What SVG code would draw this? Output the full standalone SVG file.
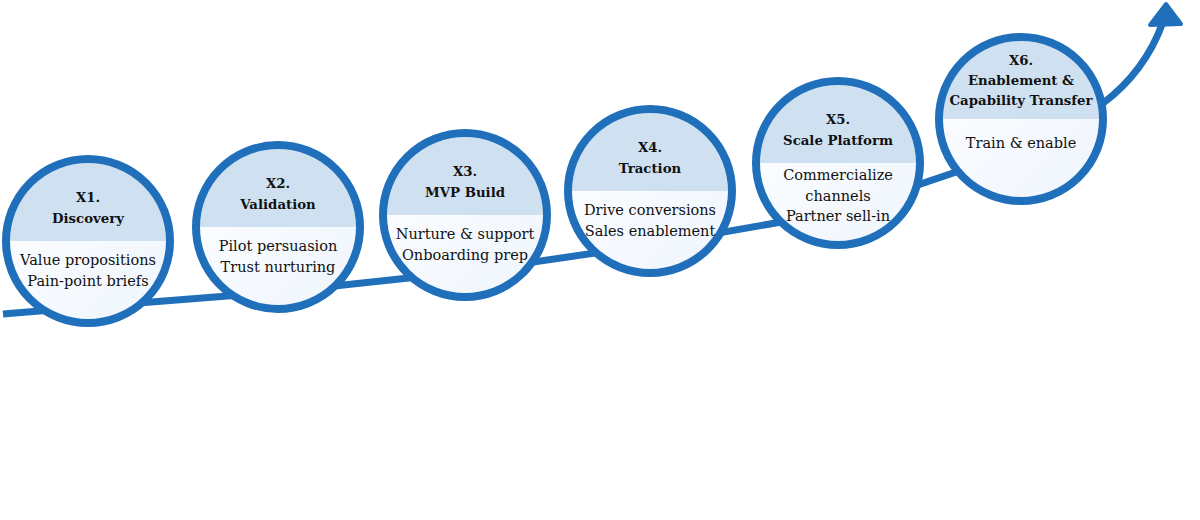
<svg xmlns="http://www.w3.org/2000/svg" width="1200" height="520" viewBox="0 0 1200 520">
  <defs>
    <linearGradient id="bodyGrad" x1="0" y1="0" x2="1" y2="1">
      <stop offset="0" stop-color="#ffffff"/>
      <stop offset="1" stop-color="#eef5fd"/>
    </linearGradient>
    <clipPath id="disc">
      <circle cx="0" cy="0" r="82"/>
    </clipPath>
    <style>
      .conn { fill: none; stroke: #1f6fbb; stroke-width: 7; stroke-linejoin: round; }
      .head { fill: #1f6fbb; stroke: #1f6fbb; stroke-width: 4; stroke-linejoin: round; }
      .body { fill: url(#bodyGrad); }
      .band { fill: #cfe1f1; }
      .ring { fill: none; stroke: #1f6fbb; stroke-width: 8; }
      .t { font-family: "DejaVu Serif", "Liberation Serif", serif; font-size: 13.3px; font-weight: bold; fill: #111; text-anchor: middle; }
      .b { font-family: "DejaVu Serif", "Liberation Serif", serif; font-size: 14.5px; fill: #111; text-anchor: middle; }
    </style>
  </defs>

  <g id="connectors">
    <path class="conn" d="M3,314 L88,307 L278,292 L465,272 L650,245 L838,212 L1021,150 L1102,104 Q1145,72 1163,22"/>
    <polygon class="head" points="1166,4 1150,25 1181,24"/>
  </g>

  <g id="node-x1" transform="translate(88,241)">
    <circle class="body" cx="0" cy="0" r="82"/>
    <rect class="band" x="-90" y="-90" width="180" height="90" clip-path="url(#disc)"/>
    <circle class="ring" cx="0" cy="0" r="82"/>
    <text class="t" x="0" y="-39">X1.</text>
    <text class="t" x="0" y="-18">Discovery</text>
    <text class="b" x="0" y="24">Value propositions</text>
    <text class="b" x="0" y="45">Pain-point briefs</text>
  </g>

  <g id="node-x2" transform="translate(278,227)">
    <circle class="body" cx="0" cy="0" r="82"/>
    <rect class="band" x="-90" y="-90" width="180" height="90" clip-path="url(#disc)"/>
    <circle class="ring" cx="0" cy="0" r="82"/>
    <text class="t" x="0" y="-39">X2.</text>
    <text class="t" x="0" y="-18">Validation</text>
    <text class="b" x="0" y="24">Pilot persuasion</text>
    <text class="b" x="0" y="45">Trust nurturing</text>
  </g>

  <g id="node-x3" transform="translate(465,215)">
    <circle class="body" cx="0" cy="0" r="82"/>
    <rect class="band" x="-90" y="-90" width="180" height="90" clip-path="url(#disc)"/>
    <circle class="ring" cx="0" cy="0" r="82"/>
    <text class="t" x="0" y="-39">X3.</text>
    <text class="t" x="0" y="-18">MVP Build</text>
    <text class="b" x="0" y="24">Nurture &amp; support</text>
    <text class="b" x="0" y="45">Onboarding prep</text>
  </g>

  <g id="node-x4" transform="translate(650,191)">
    <circle class="body" cx="0" cy="0" r="82"/>
    <rect class="band" x="-90" y="-90" width="180" height="90" clip-path="url(#disc)"/>
    <circle class="ring" cx="0" cy="0" r="82"/>
    <text class="t" x="0" y="-39">X4.</text>
    <text class="t" x="0" y="-18">Traction</text>
    <text class="b" x="0" y="24">Drive conversions</text>
    <text class="b" x="0" y="45">Sales enablement</text>
  </g>

  <g id="node-x5" transform="translate(838,163)">
    <circle class="body" cx="0" cy="0" r="82"/>
    <rect class="band" x="-90" y="-90" width="180" height="90" clip-path="url(#disc)"/>
    <circle class="ring" cx="0" cy="0" r="82"/>
    <text class="t" x="0" y="-39">X5.</text>
    <text class="t" x="0" y="-18">Scale Platform</text>
    <text class="b" x="0" y="17">Commercialize</text>
    <text class="b" x="0" y="38">channels</text>
    <text class="b" x="0" y="58">Partner sell-in</text>
  </g>

  <g id="node-x6" transform="translate(1021,119)">
    <circle class="body" cx="0" cy="0" r="82"/>
    <rect class="band" x="-90" y="-90" width="180" height="90" clip-path="url(#disc)"/>
    <circle class="ring" cx="0" cy="0" r="82"/>
    <text class="t" x="0" y="-54">X6.</text>
    <text class="t" x="0" y="-34">Enablement &amp;</text>
    <text class="t" x="0" y="-14">Capability Transfer</text>
    <text class="b" x="0" y="29">Train &amp; enable</text>
  </g>
</svg>
